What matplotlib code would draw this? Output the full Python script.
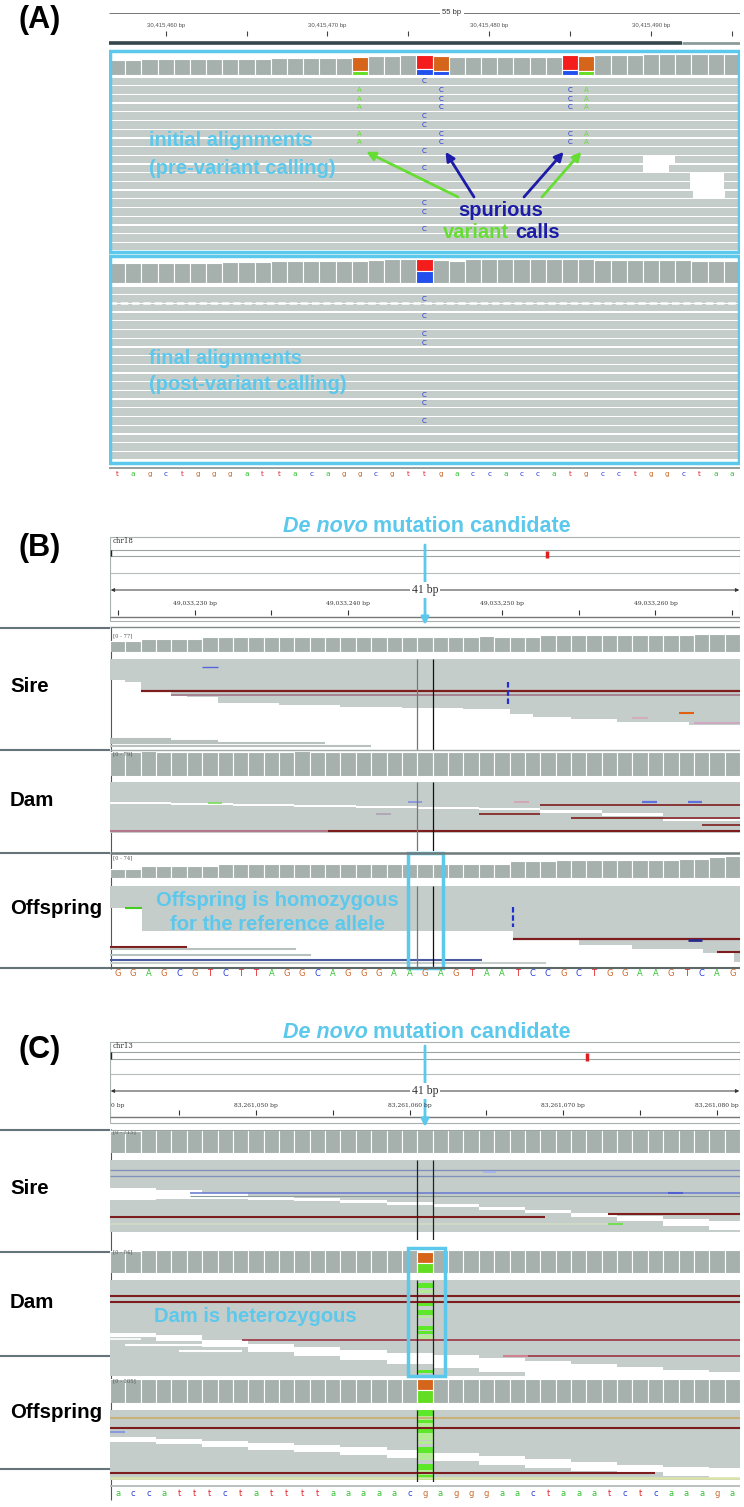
import numpy as np
import matplotlib
matplotlib.use("Agg")
import matplotlib.pyplot as plt
from matplotlib.patches import Rectangle

plt.rcParams['font.family'] = ['Liberation Sans', 'DejaVu Sans']

W, H = 744, 1507

COV_GREY = '#a6b0ad'
READ_GREY = '#c5cdca'
LONE_GREY = '#b9c1be'
CYAN = '#5bc8ec'
DARK_RED = '#7d1d1d'
NAVY = '#1c1ca8'
GREEN = '#66dd33'
SEQ_COLORS = {'a': '#35c235', 'c': '#2b3fd6', 'g': '#c9692e', 't': '#e3232a'}
COV_COLORS = {'A': '#63dd22', 'C': '#2150ec', 'G': '#d6651c', 'T': '#f51c1c'}
CALL_COLORS = {'A': '#66dd33', 'C': '#2233dd'}
ALT_SHADES = {'strong': '#5ee82a', 'weak': '#b4ec96'}

# ---------------- panel A data ----------------
A_SEQ = "tagctgggattacaggcgttgaccaccatgcctggctaa"
A_SPAN = '55 bp'
A_MAJOR = [3.5, 13.5, 23.5, 33.5]
A_LABELS = ['30,415,460 bp', '30,415,470 bp', '30,415,480 bp', '30,415,490 bp']
A_MINOR = [8.5, 18.5, 28.5, 38.5]

A_PRE_COV = [46, 46, 48, 48, 48, 48, 48, 48, 48, 48,
             53, 53, 53, 53, 53, 56, 58, 58, 61, 61,
             59, 56, 56, 56, 56, 56, 56, 56, 61, 58,
             61, 61, 61, 63, 63, 65, 65, 65, 65]
A_PRE_ALT_COLS = [15, 19, 20, 28, 29]
A_PRE_ALT_BASES = ['A', 'C', 'C', 'C', 'A']
A_PRE_ALT_COUNTS = [13, 18, 13, 15, 13]

A_POST_COV = [61, 61, 61, 61, 61, 61, 61, 66, 66, 66,
              68, 68, 68, 68, 68, 68, 71, 73, 73, 73,
              71, 68, 73, 73, 73, 73, 73, 73, 73, 73,
              71, 71, 71, 70, 70, 70, 68, 68, 68]
A_POST_ALT_COLS = [19]
A_POST_ALT_BASES = ['C']
A_POST_ALT_COUNTS = [38]

A_ROWS = 20
A_PRE_GAP_ROWS = [9, 10, 11, 12, 13]
A_PRE_GAP_START = [33.0, 33.0, 35.9, 35.9, 36.1]
A_PRE_GAP_END = [35.0, 34.6, 38.0, 38.0, 38.1]
A_PRE_CALL_COLS = [15, 19, 20, 28, 29]
A_PRE_CALL_BASES = ['A', 'C', 'C', 'C', 'A']
A_PRE_CALL_ROWS = [[1, 2, 3, 6, 7], [0, 4, 5, 8, 10, 14, 15, 17],
                   [1, 2, 3, 6, 7], [1, 2, 3, 6, 7], [1, 2, 3, 6, 7]]
A_POST_CALL_COLS = [19]
A_POST_CALL_BASES = ['C']
A_POST_CALL_ROWS = [[1, 3, 5, 6, 12, 13, 15]]

# ---------------- panel B data ----------------
B_SEQ = "GGAGCGTCTTAGGCAGGGAAGAGTAATCCGCTGGAAGTCAG"
B_CHROM = 'chr18'
B_IDEO = 0.694
B_SPAN = '41 bp'
B_MAJOR = [5.5, 15.5, 25.5, 35.5]
B_LABELS = ['49,033,230 bp', '49,033,240 bp', '49,033,250 bp', '49,033,260 bp']
B_MINOR = [0.5, 10.5, 20.5, 30.5, 40.5]

SIRE_B_COV = [43, 43, 53, 53, 53, 53, 60, 61, 62, 62,
              62, 61, 62, 62, 62, 62, 61, 62, 62, 62,
              62, 62, 62, 62, 63, 62, 62, 62, 67, 67,
              67, 67, 67, 69, 69, 69, 69, 69, 73, 73,
              73]
DAM_B_COV = [77, 77, 79, 77, 77, 77, 77, 77, 77, 77,
             77, 77, 79, 77, 77, 77, 77, 77, 77, 77,
             77, 77, 77, 77, 77, 77, 77, 77, 77, 77,
             77, 77, 77, 77, 77, 77, 77, 77, 77, 77,
             77]
OFF_B_COV = [29, 29, 40, 40, 40, 40, 40, 45, 45, 45,
             45, 45, 45, 45, 45, 45, 45, 45, 45, 45,
             45, 45, 45, 45, 45, 45, 56, 56, 56, 58,
             58, 58, 58, 58, 58, 58, 58, 61, 61, 67,
             71]

# reads: packed depth (px below track top) per column span
SIRE_B_EDGES = [0, 1, 2, 4, 5, 7, 11, 15, 19, 23, 26, 27.5, 30, 33, 37.7, 41]
SIRE_B_DEPTH = [21, 23, 33, 37, 38, 44, 46, 48, 49, 50, 55, 58, 60, 63, 66]
SIRE_B_LINES = [(32, 2.0, 41, DARK_RED, 1.6), (36, 4.0, 41, '#a07585', 1.2),
                (8, 6.0, 7.0, '#5566dd', 1.0), (54, 37.0, 38.0, '#e06010', 1.5),
                (59, 34.0, 35.0, '#d9a6b8', 1.2), (64, 38.0, 41, '#d0a0c0', 1.2),
                (80, 0, 4.0, LONE_GREY, 1.5), (82, 0, 7.0, LONE_GREY, 1.5),
                (84, 0, 14.0, LONE_GREY, 1.5), (87, 0, 17.0, LONE_GREY, 1.5)]
SIRE_B_INS = [(25.9, 23, 46)]

DAM_B_EDGES = [0, 41]
DAM_B_DEPTH = [51]
DAM_B_BAND_EDGES = [0, 4, 8, 12, 16, 20, 24, 28, 32, 36, 41]
DAM_B_BAND_TOP = [20, 21, 22, 23, 24, 25, 26, 28, 31, 35]
DAM_B_BAND_BOT = [22, 23, 24, 25, 26, 27, 28, 31, 34, 39]
DAM_B_LINES = [(23, 28.0, 41, DARK_RED, 1.2), (32, 24.0, 28.0, DARK_RED, 1.2),
               (36, 30.0, 41, DARK_RED, 1.2), (43, 38.5, 41, DARK_RED, 1.2),
               (49, 0, 14.2, '#b07888', 1.5), (49, 14.2, 41, DARK_RED, 1.5),
               (21, 6.4, 7.3, '#77dd55', 1.2), (20, 19.4, 20.3, '#8090dd', 1.2),
               (20, 26.3, 27.3, '#d8a0b0', 1.2), (20, 34.6, 35.6, '#6070dd', 1.6),
               (20, 37.6, 38.5, '#6070dd', 1.6), (32, 17.3, 18.3, '#b0a0b0', 1.2)]

OFF_B_EDGES = [0, 2.1, 26.2, 30.5, 34, 38.6, 40.6, 41]
OFF_B_DEPTH = [22, 45, 54, 59, 63, 67, 76]
OFF_B_LINES = [(22, 1.0, 2.1, '#44cc22', 1.5), (53, 26.2, 41, DARK_RED, 1.6),
               (54, 37.6, 38.5, '#2a2a88', 2.0), (66, 39.5, 41, DARK_RED, 1.5),
               (61, 0, 5.0, DARK_RED, 1.5), (63, 0, 12.1, LONE_GREY, 1.5),
               (69, 0, 13.1, LONE_GREY, 1.5), (74, 0, 24.2, '#4a5aa0', 1.5),
               (77, 0, 28.4, '#c6cdca', 1.5)]
OFF_B_INS = [(26.2, 21, 41)]

# ---------------- panel C data ----------------
C_SEQ = "accatttctattttaaaaacgagggaactaaatctcaaaga"
C_CHROM = 'chr13'
C_IDEO = 0.757
C_SPAN = '41 bp'
C_MAJOR = [9.5, 19.5, 29.5, 39.5]
C_LABELS = ['83,261,050 bp', '83,261,060 bp', '83,261,070 bp', '83,261,080 bp']
C_MINOR = [4.5, 14.5, 24.5, 34.5]
C_CUT_LABEL = '0 bp'

SIRE_C_COV = [104, 104, 108, 108, 109, 108, 108, 109, 109, 108,
              109, 109, 108, 110, 109, 109, 108, 109, 110, 109,
              109, 109, 110, 109, 109, 110, 110, 115, 110, 109,
              109, 110, 109, 108, 109, 110, 110, 109, 110, 110,
              110]
DAM_C_COV = [88, 88, 89, 89, 90, 90, 89, 90, 90, 89,
             90, 90, 89, 90, 90, 90, 89, 90, 90, 89,
             82, 90, 89, 90, 90, 90, 89, 90, 90, 90,
             89, 90, 90, 90, 89, 90, 90, 90, 89, 90,
             90]
DAM_C_ALT_COLS = [20]
DAM_C_ALT_BASES = ['A']
DAM_C_ALT_COUNTS = [39]
OFF_C_COV = [99, 100, 100, 101, 100, 100, 101, 100, 100, 101,
             100, 100, 101, 100, 100, 101, 100, 100, 101, 100,
             101, 100, 100, 101, 100, 100, 101, 100, 100, 101,
             100, 100, 101, 100, 100, 101, 100, 100, 101, 100,
             100]
OFF_C_ALT_COLS = [20]
OFF_C_ALT_BASES = ['A']
OFF_C_ALT_COUNTS = [55]

SIRE_C_EDGES = [0, 41]
SIRE_C_DEPTH = [72]
SIRE_C_BAND_EDGES = [0, 3, 6, 9, 12, 15, 18, 21, 24, 27, 30, 33, 36, 39, 41]
SIRE_C_BAND_TOP = [28, 30, 33, 36, 38, 40, 42, 44, 47, 50, 53, 56, 59, 61]
SIRE_C_BAND_BOT = [40, 39, 39, 40, 41, 43, 45, 47, 50, 53, 57, 61, 66, 70]
SIRE_C_LINES = [(10, 0, 41, '#8090b8', 1.0), (16, 0, 41, '#8090b8', 1.0),
                (33, 5.2, 41, '#6f80d0', 1.2), (36, 5.2, 41, '#8a9a9a', 0.8),
                (57, 0, 28.3, DARK_RED, 1.5), (54, 32.4, 41, DARK_RED, 1.5),
                (64, 0, 32.4, '#d3dcc6', 1.2), (64, 32.4, 33.4, '#77dd55', 1.5),
                (12, 24.3, 25.1, '#a8b4e8', 1.5), (33, 36.3, 37.3, '#5060d0', 1.5)]

DAM_C_EDGES = [0, 41]
DAM_C_DEPTH = [96]
DAM_C_BAND_EDGES = [0, 3, 6, 9, 12, 15, 18, 21, 24, 27, 30, 33, 36, 39, 41]
DAM_C_BAND_TOP = [53, 55, 60, 64, 67, 70, 73, 75, 78, 81, 84, 87, 90, 92]
DAM_C_BAND_BOT = [57, 61, 67, 72, 76, 80, 84, 88, 92, 96, 96, 96, 96, 96]
DAM_C_LINES = [(16, 0, 41, DARK_RED, 1.5), (22, 0, 41, DARK_RED, 1.5),
               (60, 8.6, 41, '#a04050', 1.3), (76, 25.6, 27.2, '#d08090', 1.5),
               (76, 27.2, 41, '#a04050', 1.3), (65, 1.0, 6.5, 'white', 1.5),
               (71, 4.5, 8.6, 'white', 1.5), (59, 0, 2.0, 'white', 1.2)]
DAM_C_ALT_TOP = [3, 10, 21, 30, 36, 46, 51, 55, 90]
DAM_C_ALT_BOT = [8, 13, 26, 35, 38, 50, 54, 60, 93]
DAM_C_ALT_SHADE = ['strong', 'weak', 'strong', 'strong', 'weak', 'strong', 'strong', 'weak', 'strong']

OFF_C_EDGES = [0, 41]
OFF_C_DEPTH = [70]
OFF_C_BAND_EDGES = [0, 3, 6, 9, 12, 15, 18, 21, 24, 27, 30, 33, 36, 39, 41]
OFF_C_BAND_TOP = [27, 29, 31, 33, 35, 37, 40, 43, 46, 49, 52, 55, 57, 58]
OFF_C_BAND_BOT = [32, 34, 37, 40, 42, 45, 48, 51, 55, 58, 61, 62, 66, 68]
OFF_C_LINES = [(8, 0, 41, '#c8b27a', 1.5), (18, 0, 41, DARK_RED, 1.5),
               (22, 0, 1.0, '#8899dd', 1.5), (63, 0, 35.5, DARK_RED, 1.5),
               (68, 0, 41, '#dbe3ab', 1.8)]
OFF_C_ALT_TOP = [0, 6, 10, 13, 18, 23, 27, 31, 37, 43, 47, 54, 60, 65]
OFF_C_ALT_BOT = [6, 10, 13, 18, 23, 27, 30, 34, 43, 47, 50, 60, 65, 70]
OFF_C_ALT_SHADE = ['strong', 'weak', 'strong', 'weak', 'strong', 'weak', 'weak', 'weak',
                   'strong', 'weak', 'weak', 'strong', 'weak', 'strong']

fig = plt.figure(figsize=(W / 100, H / 100), dpi=100)


def px_axes(x0, y0, x1, y1, xlim, ylim, z=1):
    ax = fig.add_axes([x0 / W, 1 - y1 / H, (x1 - x0) / W, (y1 - y0) / H], zorder=z)
    ax.set_xlim(*xlim)
    ax.set_ylim(*ylim)
    ax.axis('off')
    return ax


def draw_coverage(x0, x1, y0, y1, seq, cov, cmax, alt_cols=(), alt_bases=(), alt_counts=(), label=None):
    n = len(seq)
    ax = px_axes(x0, y0, x1, y1, (0, n), (0, cmax))
    ax.bar(np.arange(n), cov, width=1, align='edge', color=COV_GREY, edgecolor='white', linewidth=0.8)
    for col, base, count in zip(alt_cols, alt_bases, alt_counts):
        ref = seq[col].upper()
        ax.bar(col, cov[col] - count, bottom=count, width=1, align='edge',
               color=COV_COLORS[ref], edgecolor='white', linewidth=0.8)
        ax.bar(col, count, width=1, align='edge', color=COV_COLORS[base], edgecolor='white', linewidth=0.8)
    if label:
        ax.text(0.004, 0.99, label, transform=ax.transAxes, ha='left', va='top',
                fontsize=3.8, family='DejaVu Serif', color='#555', zorder=5)
    return ax


def draw_a_reads(y0, rows, gap_rows, gap_start, gap_end, call_cols, call_bases, call_rows):
    ax = px_axes(109, y0, 740, y0 + rows * 8.7, (0, len(A_SEQ)), (rows, 0))
    ax.barh(np.arange(rows) + 0.5, len(A_SEQ), left=0, height=0.86, color=READ_GREY)
    for r, s, e in zip(gap_rows, gap_start, gap_end):
        ax.barh(r + 0.5, e - s, left=s, height=0.9, color='white')
    for col, base, rr in zip(call_cols, call_bases, call_rows):
        for r in rr:
            ax.text(col + 0.5, r + 0.5, base, color=CALL_COLORS[base], fontsize=5,
                    ha='center', va='center', family='DejaVu Sans')
    return ax


def draw_reads(y0, y1, edges, depth, band=None, lines=(), ins=(), alt=None,
               vcolors=('#6a6a6a', '#111111')):
    n = 41
    total = y1 - y0
    ax = px_axes(110, y0, 740, y1, (0, n), (total, 0))
    ax.fill_between(edges, 0, list(depth) + [depth[-1]], step='post', color=READ_GREY, lw=0)
    if band:
        be, bt, bb = band
        ax.fill_between(be, list(bt) + [bt[-1]], list(bb) + [bb[-1]], step='post', color='white', lw=0)
    for dep, s, e, c, lw in lines:
        ax.hlines(dep, s, e, color=c, lw=lw)
    for col, d0, d1 in ins:
        ax.vlines(col, d0, d1, color='#2030d0', lw=1.6, linestyles=(0, (2.5, 1.2)))
    if alt:
        for t, b, s in zip(*alt):
            ax.bar(20, b - t, bottom=t, width=1, align='edge', color=ALT_SHADES[s], lw=0)
    ax.vlines([20, 21], 0, total, colors=list(vcolors), lw=0.9)
    return ax


def draw_ruler(ax, n, ys, chrom, ideo, span, major, labels, minor):
    box_top, ideo_a, ideo_b, sep, span_y, lab_y, tick_a, tick_b, base_y, box_bot = ys
    ax.add_patch(Rectangle((0, box_top), n, box_bot - box_top, fill=False, ec='#a8b0b0', lw=0.8))
    ax.hlines([ideo_a, ideo_b], 0, n, color='#9aa4a4', lw=0.8)
    ax.hlines(sep, 0, n, color='#b4bcbc', lw=0.8)
    ax.vlines(0.05, ideo_a, ideo_b, color='#222', lw=1)
    ax.vlines(ideo * n, ideo_a + 1, ideo_b + 2, color='#e02020', lw=2.5)
    ax.text(0.2, box_top + 4, chrom, fontsize=5, family='DejaVu Serif', va='center', ha='left', color='#333')
    ax.annotate('', xy=(0.05, span_y), xytext=(n - 0.05, span_y),
                arrowprops=dict(arrowstyle='<|-|>', color='#333', lw=0.7, mutation_scale=5,
                                shrinkA=0, shrinkB=0))
    ax.text(n / 2, span_y, span, ha='center', va='center', fontsize=8.5, family='Liberation Serif',
            color='#333', bbox=dict(fc='white', ec='none', pad=1.2))
    for p, l in zip(major, labels):
        ax.text(p, lab_y, l, ha='center', va='center', fontsize=4.3, family='DejaVu Serif', color='#333')
    ax.vlines(list(major) + list(minor), tick_a, tick_b, color='#333', lw=0.8)
    ax.hlines(base_y, 0, n, color='#777', lw=1)


def draw_title(ax, x_split, y, arrow_top, arrow_bot):
    ax.text(x_split - 0.15, y, 'De novo', ha='right', va='center', fontsize=15.5, fontweight='bold',
            fontstyle='italic', color=CYAN)
    ax.text(x_split + 0.2, y, 'mutation candidate', ha='left', va='center', fontsize=15.5,
            fontweight='bold', color=CYAN)
    ax.annotate('', xy=(20.5, arrow_bot), xytext=(20.5, arrow_top),
                arrowprops=dict(arrowstyle='-|>', color=CYAN, lw=2, mutation_scale=11,
                                shrinkA=0, shrinkB=0))


def draw_seq(ax, seq, y, size):
    for i, ch in enumerate(seq):
        ax.text(i + 0.5, y, ch, color=SEQ_COLORS[ch.lower()], fontsize=size,
                ha='center', va='center', family='DejaVu Sans')


bg = px_axes(0, 0, W, H, (0, W), (H, 0), z=0)

# ================= panel A =================
pre_cov = draw_coverage(109, 740, 52, 75, A_SEQ, A_PRE_COV, 70,
                        A_PRE_ALT_COLS, A_PRE_ALT_BASES, A_PRE_ALT_COUNTS)
pre_reads = draw_a_reads(77, A_ROWS, A_PRE_GAP_ROWS, A_PRE_GAP_START, A_PRE_GAP_END,
                         A_PRE_CALL_COLS, A_PRE_CALL_BASES, A_PRE_CALL_ROWS)
post_cov = draw_coverage(109, 740, 257, 283, A_SEQ, A_POST_COV, 80,
                         A_POST_ALT_COLS, A_POST_ALT_BASES, A_POST_ALT_COUNTS)
post_reads = draw_a_reads(286, A_ROWS, [], [], [], A_POST_CALL_COLS, A_POST_CALL_BASES, A_POST_CALL_ROWS)
post_reads.hlines(2.0, 0, len(A_SEQ), color='white', lw=1.8, linestyles=(0, (3, 1.5)))

pa = px_axes(109, 0, 740, 480, (0, len(A_SEQ)), (480, 0), z=5)
pa.hlines(13, 0, len(A_SEQ), color='#777', lw=0.7)
pa.text(21.2, 13, A_SPAN, ha='center', va='center', fontsize=5.5, color='#333',
        bbox=dict(fc='white', ec='none', pad=1.5))
for p, l in zip(A_MAJOR, A_LABELS):
    pa.text(p, 25, l, ha='center', va='center', fontsize=4.3, color='#555')
pa.vlines(A_MAJOR + A_MINOR, 31, 36, color='#444', lw=0.8)
pa.hlines(43, 0, 35.4, color='#34474a', lw=2.6)
pa.hlines(43, 35.4, len(A_SEQ), color='#8d9b99', lw=2)
pa.add_patch(Rectangle((0.05, 50.5), len(A_SEQ) - 0.1, 201.5, fill=False, ec=CYAN, lw=2.5))
pa.add_patch(Rectangle((0.05, 255.5), len(A_SEQ) - 0.1, 207.5, fill=False, ec=CYAN, lw=2.5))
pa.hlines(468, 0, len(A_SEQ), color='#8e9696', lw=1.3)
draw_seq(pa, A_SEQ, 474, 5.3)

# ================= panel B =================
draw_coverage(110, 740, 633, 652, B_SEQ, SIRE_B_COV, 77, label='[0 - 77]')
draw_reads(659, 750, SIRE_B_EDGES, SIRE_B_DEPTH, lines=SIRE_B_LINES, ins=SIRE_B_INS,
           vcolors=('#777777', '#111111'))
draw_coverage(110, 740, 751, 776, B_SEQ, DAM_B_COV, 79, label='[0 - 79]')
draw_reads(782, 851, DAM_B_EDGES, DAM_B_DEPTH,
           band=(DAM_B_BAND_EDGES, DAM_B_BAND_TOP, DAM_B_BAND_BOT), lines=DAM_B_LINES,
           vcolors=('#777777', '#111111'))
draw_coverage(110, 740, 855, 878, B_SEQ, OFF_B_COV, 74, label='[0 - 74]')
draw_reads(886, 968, OFF_B_EDGES, OFF_B_DEPTH, lines=OFF_B_LINES, ins=OFF_B_INS,
           vcolors=('#777777', '#111111'))

pb = px_axes(110, 505, 740, 985, (0, 41), (985, 505), z=5)
draw_title(pb, 16.9, 527, 545, 625)
draw_ruler(pb, 41, (537, 550, 556, 573, 590, 604, 610, 615, 617, 621),
           B_CHROM, B_IDEO, B_SPAN, B_MAJOR, B_LABELS, B_MINOR)
pb.hlines(627.5, 0, 41, color='#7d8888', lw=1)
pb.hlines(750, 0, 41, color='#a0a8a8', lw=1)
pb.hlines(853, 0, 41, color='#6f7a7a', lw=1.8)
pb.hlines(968.5, 0, 41, color='#5d6868', lw=1.5)
pb.add_patch(Rectangle((19.4, 853), 2.3, 115, fill=False, ec=CYAN, lw=2.5))
draw_seq(pb, B_SEQ, 974, 6)

# ================= panel C =================
draw_coverage(110, 740, 1129, 1153, C_SEQ, SIRE_C_COV, 115, label='[0 - 115]')
draw_reads(1160, 1240, SIRE_C_EDGES, SIRE_C_DEPTH,
           band=(SIRE_C_BAND_EDGES, SIRE_C_BAND_TOP, SIRE_C_BAND_BOT), lines=SIRE_C_LINES,
           vcolors=('#222222', '#222222'))
draw_coverage(110, 740, 1249, 1273, C_SEQ, DAM_C_COV, 94,
              DAM_C_ALT_COLS, DAM_C_ALT_BASES, DAM_C_ALT_COUNTS, label='[0 - 94]')
draw_reads(1280, 1376, DAM_C_EDGES, DAM_C_DEPTH,
           band=(DAM_C_BAND_EDGES, DAM_C_BAND_TOP, DAM_C_BAND_BOT), lines=DAM_C_LINES,
           alt=(DAM_C_ALT_TOP, DAM_C_ALT_BOT, DAM_C_ALT_SHADE), vcolors=('#222222', '#222222'))
draw_coverage(110, 740, 1378, 1403, C_SEQ, OFF_C_COV, 105,
              OFF_C_ALT_COLS, OFF_C_ALT_BASES, OFF_C_ALT_COUNTS, label='[0 - 105]')
draw_reads(1410, 1482, OFF_C_EDGES, OFF_C_DEPTH,
           band=(OFF_C_BAND_EDGES, OFF_C_BAND_TOP, OFF_C_BAND_BOT), lines=OFF_C_LINES,
           alt=(OFF_C_ALT_TOP, OFF_C_ALT_BOT, OFF_C_ALT_SHADE), vcolors=('#222222', '#222222'))

pc = px_axes(110, 1010, 740, 1507, (0, 41), (1507, 1010), z=5)
draw_title(pc, 16.9, 1032, 1046, 1127)
draw_ruler(pc, 41, (1042, 1052, 1059, 1074, 1091, 1105, 1110, 1115, 1117, 1123),
           C_CHROM, C_IDEO, C_SPAN, C_MAJOR, C_LABELS, C_MINOR)
pc.text(0.05, 1105, C_CUT_LABEL, ha='left', va='center', fontsize=4.3, family='DejaVu Serif', color='#333')
pc.hlines(1129.5, 0, 41, color='#9aa4a4', lw=0.8)
pc.hlines(1486, 0, 41, color='#b4bcbc', lw=1.3)
pc.add_patch(Rectangle((19.4, 1248), 2.4, 128, fill=False, ec=CYAN, lw=2.5))
draw_seq(pc, C_SEQ, 1494, 6)

# ================= left margin =================
bg.hlines([628, 750, 853, 968], 0, 110, color='#65737b', lw=1.5)
bg.hlines([1130, 1252, 1356, 1469], 0, 110, color='#65737b', lw=1.5)
bg.vlines(110.5, 627, 969, color='#555', lw=0.8)
bg.vlines(110.5, 1129, 1500, color='#555', lw=0.8)

over = px_axes(0, 0, W, H, (0, W), (H, 0), z=10)
for txt, y in [('(A)', 20), ('(B)', 548), ('(C)', 1050)]:
    over.text(40, y, txt, ha='center', va='center', fontsize=22, fontweight='bold', color='black')
for txt, y in [('Sire', 687), ('Dam', 800), ('Offspring', 908),
               ('Sire', 1188), ('Dam', 1302), ('Offspring', 1412)]:
    over.text(10, y, txt, ha='left', va='center', fontsize=14.8, fontweight='bold', color='black')

ann = dict(fontsize=14.5, fontweight='bold', color=CYAN, va='center')
over.text(149, 140, 'initial alignments', ha='left', **ann)
over.text(149, 168, '(pre-variant calling)', ha='left', **ann)
over.text(149, 358, 'final alignments', ha='left', **ann)
over.text(149, 385, '(post-variant calling)', ha='left', **ann)
over.text(277, 900, 'Offspring is homozygous', ha='center', **ann)
over.text(277, 925, 'for the reference allele', ha='center', **ann)
over.text(255, 1317, 'Dam is heterozygous', ha='center', **ann)

over.text(501, 210, 'spurious', ha='center', va='center', fontsize=14.5, fontweight='bold', color=NAVY)
over.text(509, 233, 'variant', ha='right', va='center', fontsize=14.5, fontweight='bold', color=GREEN)
over.text(515, 233, 'calls', ha='left', va='center', fontsize=14.5, fontweight='bold', color=NAVY)

for tip, tail, col in [((15.9, 8.6), (458, 197), GREEN), ((20.8, 8.6), (474, 197), NAVY),
                       ((28.1, 8.6), (524, 197), NAVY), ((29.2, 8.6), (542, 197), GREEN)]:
    over.annotate('', xy=tip, xycoords=pre_reads.transData, xytext=tail, textcoords='data',
                  arrowprops=dict(arrowstyle='-|>', color=col, lw=2, mutation_scale=13,
                                  shrinkA=0, shrinkB=0))

fig.savefig('out.png', dpi=100, facecolor='white')
